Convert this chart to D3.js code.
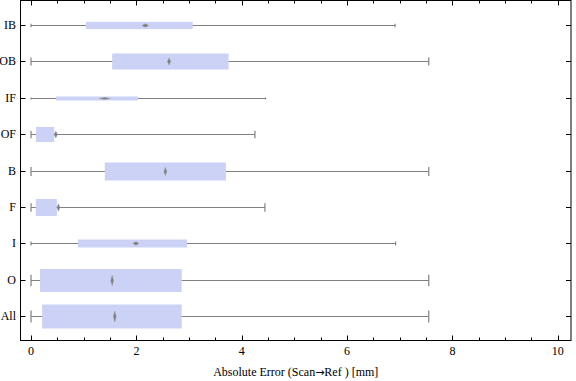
<!DOCTYPE html>
<html><head><meta charset="utf-8">
<script src="https://cdn.jsdelivr.net/npm/d3@7"></script>
<style>body{margin:0;background:#fff;}svg{display:block;}</style>
</head><body>
<svg id="c" width="576" height="381"></svg>
<script>
const categories = ["All","O","I","F","B","OF","IF","OB","IB"];
const whiskerMin = [0,0,0,0,0,0,0,0,0];
const boxLow     = [0.21,0.17,0.89,0.09,1.40,0.095,0.47,1.54,1.04];
const medians    = [1.59,1.54,1.99,0.52,2.55,0.47,1.40,2.62,2.17];
const boxHigh    = [2.86,2.86,2.96,0.49,3.70,0.44,2.03,3.75,3.07];
const whiskerMax = [7.55,7.55,6.92,4.44,7.55,4.25,4.45,7.55,6.91];
const boxWeight  = [24,23,8,17,18,15,4,16,7.3];
const xTicks = [0,2,4,6,8,10];
const xLabelParts = ["Absolute Error (Scan", "\u2192", "Ref ) [mm]"];

const svg = d3.select("#c");
const L=20.5, R=571, T=0.5, B=340.5;
const x = d3.scaleLinear().domain([-0.2,10.25]).range([L,R]);
const y = d3.scalePoint().domain(categories).range([B,T]).padding(0.66);
const thick = d3.scaleLinear().domain([0,24]).range([0,24]);

const data = categories.map((c,i)=>({c,lo:whiskerMin[i],q1:boxLow[i],med:medians[i],q3:boxHigh[i],hi:whiskerMax[i],w:boxWeight[i]}));

const g = svg.append("g");
const grey = "#808080";
data.forEach(d=>{
  const cy = Math.round(y(d.c))+0.5;
  const h = thick(d.w);
  g.append("line").attr("x1",x(d.lo)).attr("x2",x(d.hi)).attr("y1",cy).attr("y2",cy).attr("stroke",grey).attr("stroke-width",1);
  [d.lo,d.hi].forEach(v=>{
    g.append("line").attr("x1",x(v)).attr("x2",x(v)).attr("y1",cy-h/4).attr("y2",cy+h/4).attr("stroke",grey).attr("stroke-width",1.2);
  });
  g.append("rect").attr("x",x(d.q1)).attr("y",cy-h/2).attr("width",x(d.q3)-x(d.q1)).attr("height",h).attr("fill","#ccd2f5");
  const dh = Math.max(2,0.45*h)/2;
  const dw = Math.max(2.8,22/(dh*2))/2;
  const mx = x(d.med);
  g.append("path").attr("d",`M${mx-dw},${cy}L${mx},${cy-dh}L${mx+dw},${cy}L${mx},${cy+dh}Z`).attr("fill","#7d7d7d").attr("stroke","#9a9a9a").attr("stroke-width",0.5);
});

svg.append("rect").attr("x",L).attr("y",T).attr("width",R-L).attr("height",B-T).attr("fill","none").attr("stroke","#000").attr("stroke-width",1);

const minor = d3.range(0,10.01,0.5).filter(v=>xTicks.indexOf(v)<0);
const tg = svg.append("g").attr("stroke","#000").attr("stroke-width",1);
xTicks.forEach(v=>{
  const px = Math.round(x(v))+0.5;
  tg.append("line").attr("x1",px).attr("x2",px).attr("y1",B).attr("y2",B-5);
  tg.append("line").attr("x1",px).attr("x2",px).attr("y1",T).attr("y2",T+5);
});
minor.forEach(v=>{
  const px = Math.round(x(v))+0.5;
  tg.append("line").attr("x1",px).attr("x2",px).attr("y1",B).attr("y2",B-3);
  tg.append("line").attr("x1",px).attr("x2",px).attr("y1",T).attr("y2",T+3);
});
categories.forEach(c=>{
  const py = Math.round(y(c))+0.5;
  tg.append("line").attr("x1",L).attr("x2",L+5).attr("y1",py).attr("y2",py);
  tg.append("line").attr("x1",R).attr("x2",R-5).attr("y1",py).attr("y2",py);
});

const font = "'Liberation Serif','Times New Roman',serif";
svg.append("g").selectAll("text").data(xTicks).join("text")
  .attr("x",d=>x(d)).attr("y",355).attr("text-anchor","middle")
  .attr("font-family",font).attr("font-size",12).attr("fill","#000").text(d=>d);
svg.append("g").selectAll("text").data(categories).join("text")
  .attr("x",16).attr("y",d=>y(d)+4).attr("text-anchor","end")
  .attr("font-family",font).attr("font-size",12).attr("fill","#000").text(d=>d);
const xl = svg.append("text").attr("x",(L+R)/2).attr("y",376).attr("text-anchor","middle")
  .attr("font-family",font).attr("font-size",12).attr("fill","#000");
xl.append("tspan").text(xLabelParts[0]);
xl.append("tspan").attr("font-family","'DejaVu Sans'").attr("font-size",11).text(xLabelParts[1]);
xl.append("tspan").text(xLabelParts[2]);
</script>
</body></html>
